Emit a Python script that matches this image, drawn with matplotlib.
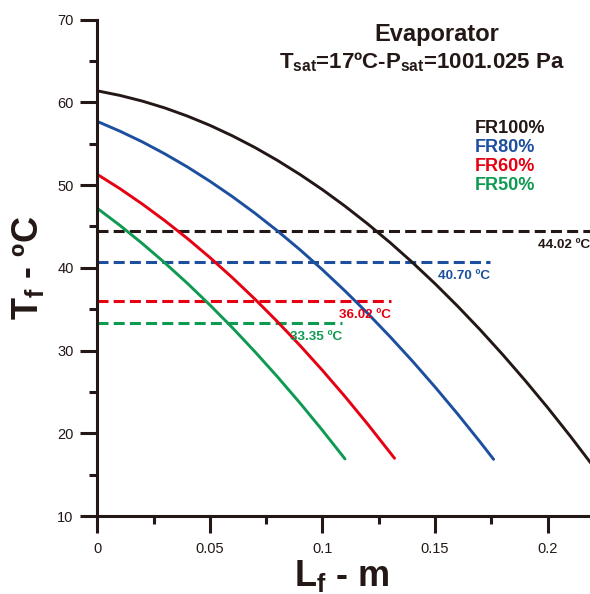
import matplotlib
matplotlib.use('Agg')
import matplotlib.pyplot as plt
from matplotlib.ticker import MultipleLocator, FuncFormatter

plt.rcParams['font.family'] = ['Liberation Sans', 'DejaVu Sans']
plt.rcParams['mathtext.fontset'] = 'custom'
plt.rcParams['mathtext.rm'] = 'Liberation Sans'
plt.rcParams['mathtext.bf'] = 'Liberation Sans:bold'
plt.rcParams['mathtext.it'] = 'Liberation Sans:italic'

# curvas (L_f em m, T_f em ºC)
x_fr100 = [0, 0.01, 0.02, 0.03, 0.04, 0.05, 0.06, 0.07, 0.08, 0.09, 0.10, 0.11,
           0.12, 0.13, 0.14, 0.15, 0.16, 0.17, 0.18, 0.19, 0.20, 0.21, 0.22]
t_fr100 = [61.4, 60.85, 60.16, 59.33, 58.35, 57.23, 55.96, 54.55, 52.99, 51.29,
           49.45, 47.46, 45.33, 43.06, 40.64, 38.08, 35.37, 32.52, 29.52, 26.38,
           23.10, 19.67, 16.10]

x_fr80 = [0, 0.01, 0.02, 0.03, 0.04, 0.05, 0.06, 0.07, 0.08, 0.09, 0.10, 0.11,
          0.12, 0.13, 0.14, 0.15, 0.16, 0.17, 0.176]
t_fr80 = [57.7, 56.53, 55.23, 53.78, 52.20, 50.47, 48.61, 46.61, 44.47, 42.19,
          39.77, 37.21, 34.52, 31.68, 28.71, 25.59, 22.34, 18.95, 16.85]

x_fr60 = [0, 0.01, 0.02, 0.03, 0.04, 0.05, 0.06, 0.07, 0.08, 0.09, 0.10, 0.11,
          0.12, 0.132]
t_fr60 = [51.3, 49.58, 47.71, 45.70, 43.55, 41.25, 38.81, 36.22, 33.49, 30.62,
          27.60, 24.44, 21.13, 16.98]

x_fr50 = [0, 0.01, 0.02, 0.03, 0.04, 0.05, 0.06, 0.07, 0.08, 0.09, 0.10, 0.11]
t_fr50 = [47.2, 45.14, 42.94, 40.60, 38.13, 35.51, 32.76, 29.86, 26.83, 23.66,
          20.35, 16.90]

nomes = ['FR100%', 'FR80%', 'FR60%', 'FR50%']
cores = ['#231815', '#1d4f9f', '#e60012', '#0f9a52']

# linhas tracejadas (temperatura de saida)
t_saida = [44.5, 40.70, 36.02, 33.35]
x_fim_saida = [0.2188, 0.1746, 0.1305, 0.1088]
rotulos_saida = ['44.02 ºC', '40.70 ºC', '36.02 ºC', '33.35 ºC']

W, H = 590, 594
fig = plt.figure(figsize=(W / 100, H / 100), dpi=100)
ax = fig.add_axes([97.3 / W, 1 - 516 / H, (W - 97.3) / W, (516 - 19.7) / H])

curvas = [(x_fr100, t_fr100), (x_fr80, t_fr80), (x_fr60, t_fr60), (x_fr50, t_fr50)]
for (xs, ts), cor in zip(curvas, cores):
    ax.plot(xs, ts, color=cor, lw=2.1, solid_capstyle='round', zorder=3)

for t, xf, rot, cor in zip(t_saida, x_fim_saida, rotulos_saida, cores):
    ax.plot([0, xf], [t, t], color=cor, lw=2.2, dashes=(3.6, 1.7), zorder=2)
    ax.annotate(rot, xy=(xf, t), xytext=(0, -12.3), textcoords='offset points',
                ha='right', va='baseline', color=cor, fontsize=9.7,
                fontweight='bold', annotation_clip=False)

ax.set_xlim(0, 0.2188)
ax.set_ylim(10, 70)
ax.xaxis.set_major_locator(MultipleLocator(0.05))
ax.xaxis.set_minor_locator(MultipleLocator(0.025))
ax.yaxis.set_major_locator(MultipleLocator(10))
ax.yaxis.set_minor_locator(MultipleLocator(5))
ax.xaxis.set_major_formatter(FuncFormatter(lambda v, p: '%g' % round(v, 3)))

for lado in ['top', 'right']:
    ax.spines[lado].set_visible(False)
for lado in ['left', 'bottom']:
    ax.spines[lado].set_linewidth(2.2)
    ax.spines[lado].set_color('#231815')
    ax.spines[lado].set_zorder(4)

ax.tick_params(which='major', length=12, width=2.2, color='#231815',
               labelsize=10.5, labelcolor='#231815')
ax.tick_params(which='minor', length=6, width=2.2, color='#231815')
ax.tick_params(axis='y', which='major', pad=5)
ax.tick_params(axis='x', which='major', pad=7)

fig.text(342 / W, 1 - 586 / H, r'$\mathbf{L}_\mathbf{f}$ - m', ha='center',
         va='baseline', fontsize=26, fontweight='bold', color='#231815')
fig.text(38 / W, 1 - 268 / H, r'$\mathbf{T}_\mathbf{f}$ - ºC', ha='center',
         va='baseline', rotation=90, rotation_mode='anchor', fontsize=26,
         fontweight='bold', color='#231815')

fig.text(437 / W, 1 - 35 / H, 'Evaporator', ha='center', va='center',
         fontsize=17, fontweight='bold', color='#231815')
fig.text(422 / W, 1 - 68 / H,
         r'$\mathbf{T}_\mathbf{sat}$=17ºC-$\mathbf{P}_\mathbf{sat}$=1001.025 Pa',
         ha='center', va='baseline', fontsize=16, fontweight='bold', color='#231815')

for i, (nome, cor) in enumerate(zip(nomes, cores)):
    fig.text(475 / W, 1 - (133.5 + 18.7 * i) / H, nome, ha='left', va='baseline',
             fontsize=13, fontweight='bold', color=cor)

fig.savefig('out.png', dpi=100)
